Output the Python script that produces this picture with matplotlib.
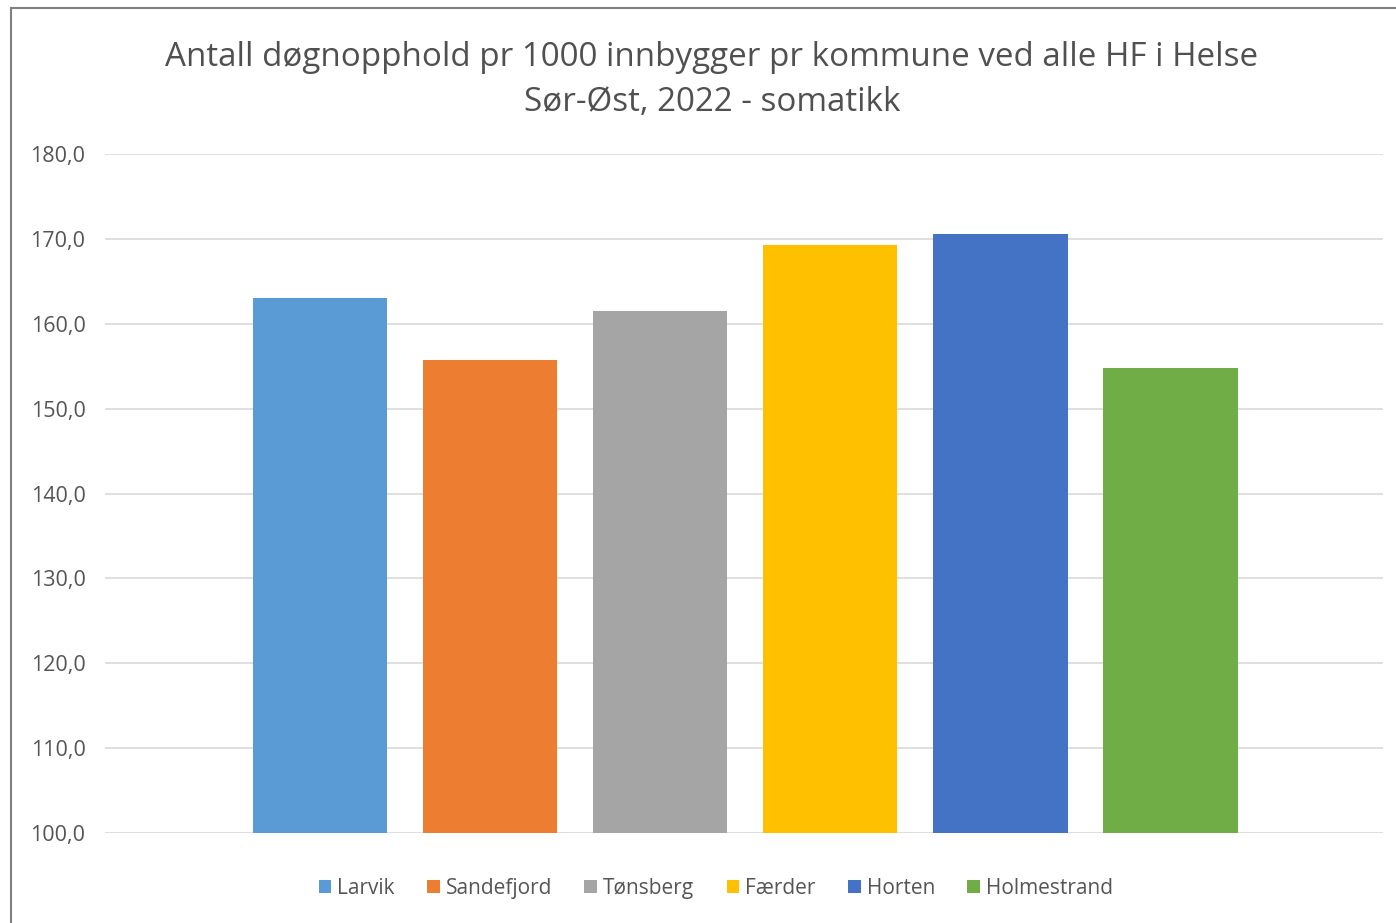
import numpy as np
import matplotlib.pyplot as plt
from matplotlib.ticker import FuncFormatter

# Data
kommuner = ["Larvik", "Sandefjord", "Tønsberg", "Færder", "Horten", "Holmestrand"]
verdier = [163.0, 155.7, 161.5, 169.3, 170.6, 154.8]
farger = ["#5B9BD5", "#ED7D31", "#A5A5A5", "#FFC000", "#4472C4", "#70AD47"]

plt.rcParams['font.family'] = ['Open Sans', 'DejaVu Sans']

fig = plt.figure(figsize=(13.96, 9.23), dpi=100)
ax = fig.add_axes([0.0752, 0.0975, 0.9155, 0.7356])

x = np.arange(len(kommuner))
for i, (navn, v, c) in enumerate(zip(kommuner, verdier, farger)):
    ax.bar(x[i], v - 100, bottom=100, width=0.79, color=c, label=navn, zorder=3)

ax.set_ylim(100, 180)
ax.set_xlim(-1.265, 6.25)
ax.set_yticks(np.arange(100, 181, 10))
ax.yaxis.set_major_formatter(FuncFormatter(lambda v, p: f"{v:.1f}".replace(".", ",")))
ax.set_xticks([])
ax.grid(axis='y', color='#D9D9D9', linewidth=1.2, zorder=0)
for s in ax.spines.values():
    s.set_visible(False)
ax.tick_params(axis='y', length=0, labelsize=15.5, labelcolor='#555555', pad=14)

fig.text(0.51, 0.9135, "Antall døgnopphold pr 1000 innbygger pr kommune ved alle HF i Helse\nSør-Øst, 2022 - somatikk",
         ha='center', va='center', fontsize=23.9, color='#505050', linespacing=1.49)

leg = ax.legend(loc='center', bbox_to_anchor=(0.478, -0.081), ncol=6, frameon=False,
                fontsize=15, handlelength=0.6, handleheight=0.6, handletextpad=0.3,
                columnspacing=1.55, labelcolor='#555555')

# chart frame
fig.add_artist(plt.Line2D([0.008, 0.008], [0, 0.991], color='#808080', linewidth=1.5))
fig.add_artist(plt.Line2D([0.008, 1.0], [0.991, 0.991], color='#808080', linewidth=1.5))

fig.savefig("out.png", dpi=100)
